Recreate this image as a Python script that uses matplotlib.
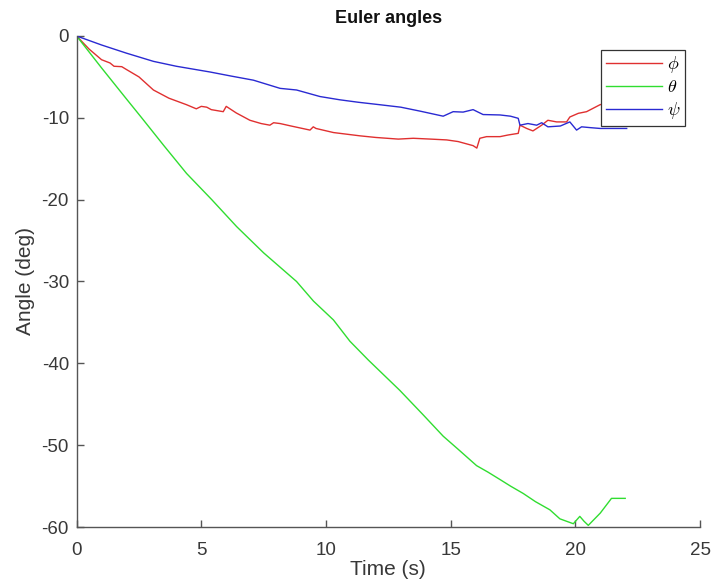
import matplotlib
matplotlib.use("Agg")
import matplotlib.pyplot as plt

# ---- data ----
t_phi = [0, 0.5, 1.0, 1.34, 1.5, 1.81, 2.0, 2.5, 3.08, 3.7, 4.41, 4.8, 5.0, 5.22, 5.4,
         5.88, 6.0, 6.4, 6.95, 7.4, 7.75, 7.9, 8.16, 8.6, 9.36, 9.49, 9.6, 10.3, 11.36,
         12.0, 12.9, 13.5, 14.2, 14.84, 15.3, 15.9, 16.05, 16.17, 16.44, 16.98, 17.3,
         17.71, 17.78, 18.05, 18.3, 18.65, 18.9, 19.25, 19.65, 19.78, 20.12, 20.45,
         20.99, 21.5, 22.0]
phi = [0, -1.6, -2.9, -3.3, -3.7, -3.75, -4.1, -5.0, -6.6, -7.6, -8.4, -8.9, -8.6, -8.7,
       -9.0, -9.25, -8.6, -9.4, -10.3, -10.7, -10.9, -10.6, -10.7, -11.0, -11.5, -11.1,
       -11.3, -11.8, -12.2, -12.4, -12.6, -12.5, -12.6, -12.7, -12.9, -13.4, -13.7,
       -12.5, -12.3, -12.3, -12.1, -11.9, -10.9, -11.3, -11.6, -10.9, -10.3, -10.5,
       -10.5, -9.9, -9.45, -9.25, -8.4, -8.0, -7.6]

t_theta = [0, 1.0, 2.0, 2.61, 3.5, 4.41, 5.42, 6.42, 7.5, 8.82, 9.5, 10.3, 10.96, 11.7,
           12.96, 13.9, 14.7, 15.3, 16.04, 16.5, 16.98, 17.4, 17.91, 18.4, 18.98, 19.38,
           19.92, 20.18, 20.35, 20.52, 21.0, 21.45, 22.0]
theta = [0, -3.9, -7.7, -10, -13.4, -16.8, -20, -23.3, -26.5, -30, -32.4, -34.7, -37.3,
         -39.6, -43.3, -46.3, -48.9, -50.5, -52.5, -53.3, -54.2, -55.0, -55.9, -56.9,
         -57.9, -59.0, -59.6, -58.7, -59.3, -59.8, -58.3, -56.5, -56.5]

t_psi = [0, 1, 2, 3.08, 4, 5.35, 6.2, 7.09, 8.16, 8.82, 9.76, 10.56, 11.3, 12.16, 13.0,
         13.8, 14.7, 15.1, 15.5, 15.9, 16.3, 16.98, 17.4, 17.71, 17.78, 18.1, 18.45,
         18.65, 18.9, 19.4, 19.78, 20.05, 20.25, 20.6, 21.0, 21.5, 22.06]
psi = [0, -1.1, -2.1, -3.1, -3.7, -4.4, -4.9, -5.4, -6.4, -6.6, -7.4, -7.8, -8.1, -8.4,
       -8.7, -9.2, -9.8, -9.25, -9.3, -9.0, -9.6, -9.65, -9.8, -10.06, -10.9, -10.7,
       -10.9, -10.6, -11.1, -11.0, -10.5, -11.5, -11.1, -11.2, -11.3, -11.3, -11.3]

labels = [r"$\phi$", r"$\theta$", r"$\psi$"]
xticks = [0, 5, 10, 15, 20, 25]
yticks = [0, -10, -20, -30, -40, -50, -60]

plt.rcParams["font.family"] = ["Liberation Sans", "DejaVu Sans"]
plt.rcParams["mathtext.fontset"] = "cm"

fig = plt.figure(figsize=(7.14, 5.87), dpi=100)
ax = fig.add_axes([0.1073, 0.1022, 0.8731, 0.8365])

ax.plot(t_phi, phi, color="#e03030", lw=1.0, label=labels[0])
ax.plot(t_theta, theta, color="#30dd30", lw=1.0, label=labels[1])
ax.plot(t_psi, psi, color="#2a2ad2", lw=1.0, label=labels[2])

ax.set_xlim(0, 25)
ax.set_ylim(-60, 0)
ax.set_xticks(xticks)
ax.set_yticks(yticks)
ax.set_yticklabels([str(v) for v in yticks])

for s in ["top", "right"]:
    ax.spines[s].set_visible(False)
for s in ["left", "bottom"]:
    ax.spines[s].set_color("#555555")
    ax.spines[s].set_linewidth(1.0)

ax.tick_params(direction="in", length=5, width=1.0, color="#555555",
               labelcolor="#383838", labelsize=13.5)
ax.tick_params(axis="x", pad=10.5)
ax.tick_params(axis="y", pad=5.5)

ax.set_xlabel("Time (s)", fontsize=15, color="#383838", labelpad=1)
ax.set_ylabel("Angle (deg)", fontsize=15, color="#383838", labelpad=5)
ax.set_title("Euler angles", fontsize=13, fontweight="bold", color="#111111", pad=9)

leg = ax.legend(loc="upper right", bbox_to_anchor=(0.976, 0.9715), fancybox=False,
                framealpha=1.0, edgecolor="#333333", fontsize=13,
                handlelength=3.1, handletextpad=0.3, borderpad=0.25,
                labelspacing=0.22, borderaxespad=0.0)
leg.get_frame().set_linewidth(0.9)

fig.savefig("out.png", dpi=100)
